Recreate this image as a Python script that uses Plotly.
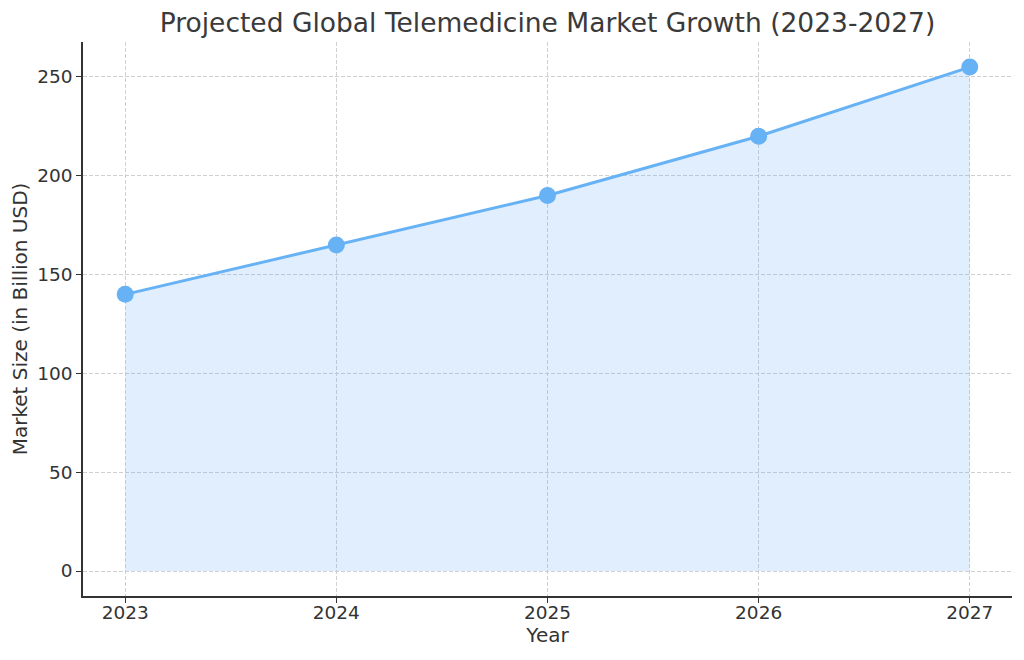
import plotly.graph_objects as go

years = [2023, 2024, 2025, 2026, 2027]
market_size = [140, 165, 190, 220, 255]
y_ticks = [0, 50, 100, 150, 200, 250]

line_color = "#66b2f5"
fill_color = "rgba(102, 170, 245, 0.2)"
text_color = "#333333"
grid_color = "#d0d0d0"

fig = go.Figure()

fig.add_trace(go.Scatter(
    x=years, y=market_size, mode="lines+markers", fill="tozeroy",
    fillcolor=fill_color,
    line=dict(color=line_color, width=3),
    marker=dict(color=line_color, size=17),
    showlegend=False,
))

# page has an 8px body margin, so the figure is sized to fit the window
fig.update_layout(
    width=1016, height=652,
    margin=dict(l=75, r=12, t=34, b=64),
    paper_bgcolor="#ffffff", plot_bgcolor="#ffffff",
    font=dict(family="DejaVu Sans", size=17, color=text_color),
    title=dict(text="Projected Global Telemedicine Market Growth (2023-2027)",
               xref="paper", x=0.5, xanchor="center", y=0.978, yanchor="middle",
               font=dict(size=26.5, color="#3a3a3a")),
)

axis_style = dict(
    showline=True, linecolor=text_color, linewidth=1.5,
    ticks="outside", ticklen=5, tickcolor=text_color,
    tickfont=dict(size=18.5),
    showgrid=True, gridcolor=grid_color, griddash="4px,2px", gridwidth=1,
    zeroline=False, layer="above traces",
)

fig.update_xaxes(
    range=[2022.8, 2027.2], tickvals=years, ticktext=[str(y) for y in years],
    ticklabelstandoff=-6,
    title=dict(text="Year", standoff=4), **axis_style,
)
fig.update_yaxes(
    range=[-12.65, 267.7], tickvals=y_ticks,
    title=dict(text="Market Size (in Billion USD)", standoff=4), **axis_style,
)

fig.write_html("out.html")
